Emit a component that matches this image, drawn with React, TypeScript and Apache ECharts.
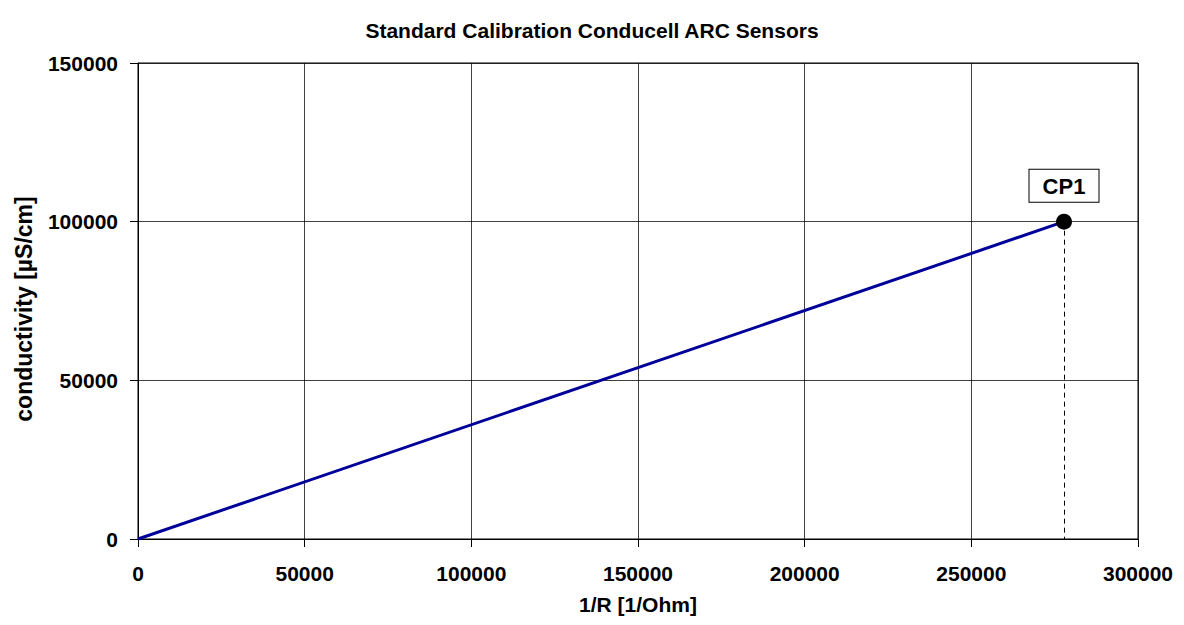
import React, { useEffect, useRef } from "react";
import * as echarts from "echarts";

const titleText = "Standard Calibration Conducell ARC Sensors";
const xName = "1/R [1/Ohm]";
const yName = "conductivity [µS/cm]";
const xValues = [0, 277800];
const yValues = [0, 100000];
const pointName = "CP1";

export default function App() {
  const ref = useRef<HTMLDivElement>(null);
  useEffect(() => {
    if (!ref.current) return;
    const chart = echarts.init(ref.current, undefined, { renderer: "svg" });
    const font = "'Liberation Sans', Arial, sans-serif";
    const lastIdx = xValues.length - 1;
    const data = xValues.map((x, i) => {
      const item: any = { value: [x, yValues[i]] };
      if (i === lastIdx) {
        item.symbol = "circle";
        item.symbolSize = 16;
        item.itemStyle = { color: "#000" };
        item.label = {
          show: true,
          formatter: pointName,
          position: "top",
          distance: 12,
          color: "#000",
          fontWeight: "bold",
          fontSize: 22,
          fontFamily: font,
          backgroundColor: "#fff",
          borderColor: "#000",
          borderWidth: 1,
          width: 43,
          height: 24,
          align: "center",
          padding: [4, 13, 4, 13],
        };
      } else {
        item.symbol = "none";
        item.symbolSize = 0;
      }
      return item;
    });
    const axisText = { fontSize: 21, fontWeight: "bold", color: "#000", fontFamily: font };
    chart.setOption({
      animation: false,
      backgroundColor: "#fff",
      title: {
        text: titleText,
        left: "center",
        top: 15,
        textStyle: { ...axisText, fontSize: 21 },
      },
      grid: { left: 138, right: 46, top: 63, bottom: 86, show: true, borderColor: "#000", borderWidth: 1 },
      xAxis: {
        type: "value",
        min: 0,
        max: 300000,
        interval: 50000,
        name: xName,
        nameLocation: "middle",
        nameGap: 55,
        nameTextStyle: axisText,
        axisLine: { show: true, lineStyle: { color: "#000", width: 1 } },
        axisTick: { show: true, length: 8, inside: false, lineStyle: { color: "#000" } },
        axisLabel: { ...axisText, margin: 24, formatter: (v: number) => String(v) },
        splitLine: { show: true, lineStyle: { color: "#000", width: 1, opacity: 0.75 } },
      },
      yAxis: {
        type: "value",
        min: 0,
        max: 150000,
        interval: 50000,
        name: yName,
        nameLocation: "middle",
        nameGap: 103,
        nameTextStyle: { ...axisText, fontSize: 23, padding: [0, 16, 0, 0] },
        axisLine: { show: true, lineStyle: { color: "#000", width: 1 } },
        axisTick: { show: true, length: 8, inside: false, lineStyle: { color: "#000" } },
        axisLabel: { ...axisText, margin: 20, formatter: (v: number) => String(v) },
        splitLine: { show: true, lineStyle: { color: "#000", width: 1, opacity: 0.75 } },
      },
      series: [
        {
          type: "line",
          data,
          lineStyle: { color: "#000099", width: 3 },
          itemStyle: { color: "#000" },
          showSymbol: true,
          z: 3,
          markLine: {
            silent: true,
            symbol: "none",
            label: { show: false },
            lineStyle: { color: "#000", type: [5, 4], width: 1 },
            data: [
              [
                { coord: [xValues[lastIdx], yValues[lastIdx]] },
                { coord: [xValues[lastIdx], 0] },
              ],
            ],
          },
        },
      ],
    });
    return () => chart.dispose();
  }, []);
  return (
    <div
      ref={ref}
      style={{ position: "absolute", left: 0, top: 0, width: 1184, height: 625 }}
    />
  );
}
